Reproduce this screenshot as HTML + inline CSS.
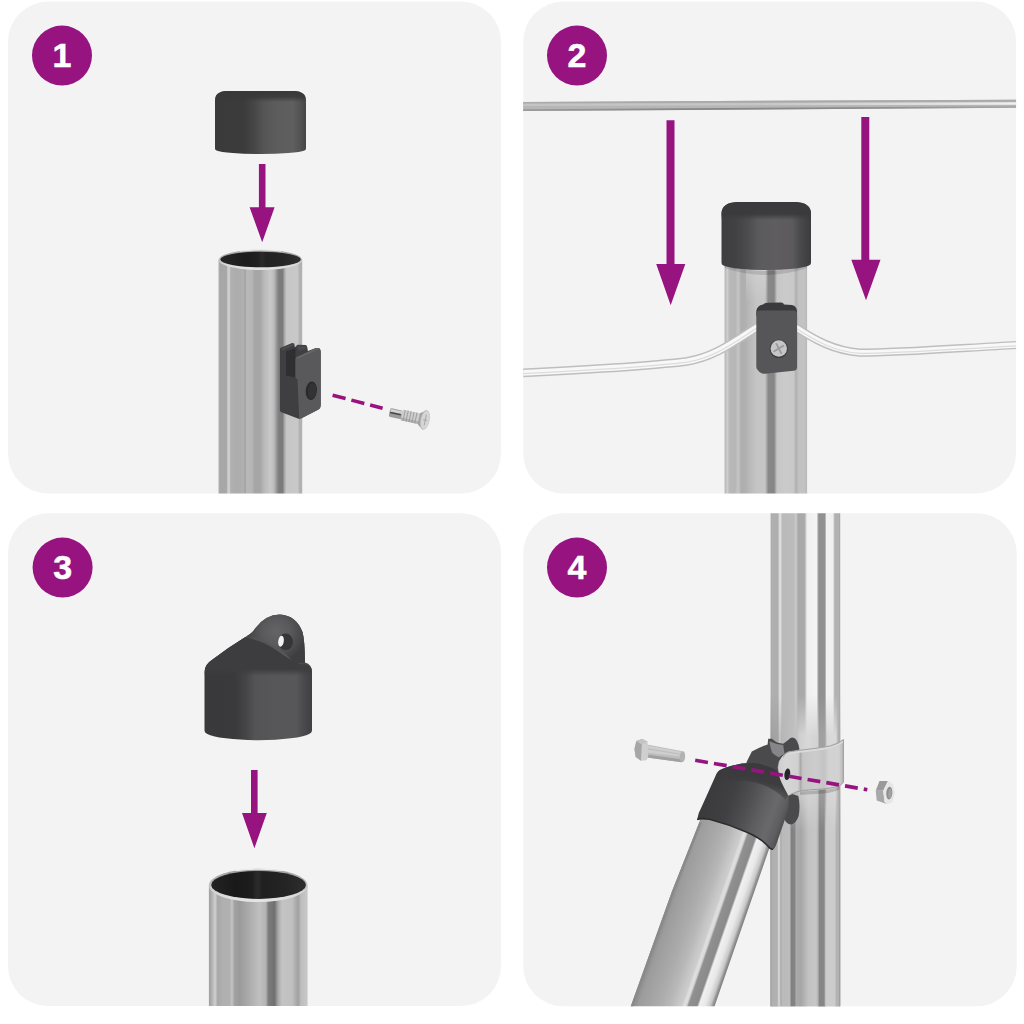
<!DOCTYPE html>
<html lang="en">
<head>
<meta charset="utf-8">
<title>Assembly steps 1-4</title>
<style>
html,body{margin:0;padding:0;background:#fff;}
body{width:1024px;height:1024px;overflow:hidden;position:relative;font-family:"Liberation Sans",sans-serif;}
svg{position:absolute;left:0;top:0;display:block;}
.num{font-family:"Liberation Sans",sans-serif;font-weight:700;font-size:34px;fill:#fff;stroke:#fff;stroke-width:0.5px;text-anchor:middle;}
</style>
</head>
<body>
<svg width="1024" height="1024" viewBox="0 0 1024 1024">
<defs>
<clipPath id="c1"><rect x="8" y="1.6" width="493" height="492" rx="40"/></clipPath>
<clipPath id="c2"><rect x="523.2" y="1.6" width="492.9" height="492" rx="40"/></clipPath>
<clipPath id="c3"><rect x="8" y="513.2" width="493" height="492.9" rx="40"/></clipPath>
<clipPath id="c4"><rect x="523.2" y="513.2" width="493.5" height="493" rx="40"/></clipPath>
<linearGradient id="gt1" gradientUnits="userSpaceOnUse" x1="218.75" y1="0" x2="302.4" y2="0">
<stop offset="0.0000" stop-color="#b0b0b0"/>
<stop offset="0.0164" stop-color="#a6a6a6"/>
<stop offset="0.0941" stop-color="#a8a8a8"/>
<stop offset="0.1091" stop-color="#d0d0d0"/>
<stop offset="0.1285" stop-color="#cccccc"/>
<stop offset="0.1435" stop-color="#b0b0b0"/>
<stop offset="0.2182" stop-color="#acacac"/>
<stop offset="0.3033" stop-color="#b0b0b0"/>
<stop offset="0.3153" stop-color="#9c9c9c"/>
<stop offset="0.3302" stop-color="#b8b8b8"/>
<stop offset="0.3975" stop-color="#b6b6b6"/>
<stop offset="0.4274" stop-color="#a6a6a6"/>
<stop offset="0.4946" stop-color="#a6a6a6"/>
<stop offset="0.5469" stop-color="#bababa"/>
<stop offset="0.6186" stop-color="#c8c8c8"/>
<stop offset="0.6590" stop-color="#bcbcbc"/>
<stop offset="0.7083" stop-color="#848484"/>
<stop offset="0.7262" stop-color="#7c7c7c"/>
<stop offset="0.7636" stop-color="#7c7c7c"/>
<stop offset="0.7860" stop-color="#a8a8a8"/>
<stop offset="0.8084" stop-color="#c6c6c6"/>
<stop offset="0.9429" stop-color="#c8c8c8"/>
<stop offset="0.9653" stop-color="#b2b2b2"/>
<stop offset="0.9922" stop-color="#b0b0b0"/>
<stop offset="0.9997" stop-color="#c0c0c0"/>
</linearGradient>
<linearGradient id="gcap1" gradientUnits="userSpaceOnUse" x1="215" y1="0" x2="306" y2="0">
<stop offset="0.0000" stop-color="#3a3a3b"/>
<stop offset="0.3077" stop-color="#3b3b3c"/>
<stop offset="0.4286" stop-color="#464647"/>
<stop offset="0.5385" stop-color="#555556"/>
<stop offset="0.6593" stop-color="#5c5c5d"/>
<stop offset="0.8571" stop-color="#5f5f60"/>
<stop offset="0.9341" stop-color="#535354"/>
<stop offset="1.0000" stop-color="#454546"/>
</linearGradient>
<linearGradient id="gcaptop1" gradientUnits="userSpaceOnUse" x1="0" y1="91" x2="0" y2="102">
<stop offset="0.0000" stop-color="#38383a" stop-opacity="1"/>
<stop offset="0.5455" stop-color="#38383a" stop-opacity="0.85"/>
<stop offset="1.0000" stop-color="#38383a" stop-opacity="0"/>
</linearGradient>
<linearGradient id="grim1" gradientUnits="userSpaceOnUse" x1="0" y1="249.8" x2="0" y2="270">
<stop offset="0.0000" stop-color="#a0a0a0"/>
<stop offset="0.3564" stop-color="#b4b4b4"/>
<stop offset="0.7030" stop-color="#d6d6d6"/>
<stop offset="1.0000" stop-color="#e4e4e4"/>
</linearGradient>
<linearGradient id="gin1" gradientUnits="userSpaceOnUse" x1="220" y1="0" x2="301" y2="0">
<stop offset="0.0000" stop-color="#262627"/>
<stop offset="0.3086" stop-color="#1c1c1d"/>
<stop offset="0.4691" stop-color="#202021"/>
<stop offset="0.5185" stop-color="#2a2a2b"/>
<stop offset="0.5679" stop-color="#222223"/>
<stop offset="0.8025" stop-color="#252526"/>
<stop offset="1.0000" stop-color="#303031"/>
</linearGradient>
<linearGradient id="grim3" gradientUnits="userSpaceOnUse" x1="0" y1="868.7" x2="0" y2="902.1">
<stop offset="0.0000" stop-color="#9c9c9c"/>
<stop offset="0.3383" stop-color="#b4b4b4"/>
<stop offset="0.7275" stop-color="#d6d6d6"/>
<stop offset="1.0000" stop-color="#e6e6e6"/>
</linearGradient>
<linearGradient id="gin3" gradientUnits="userSpaceOnUse" x1="211" y1="0" x2="306" y2="0">
<stop offset="0.0000" stop-color="#242425"/>
<stop offset="0.2526" stop-color="#19191a"/>
<stop offset="0.4316" stop-color="#1d1d1e"/>
<stop offset="0.4895" stop-color="#2c2c2d"/>
<stop offset="0.5474" stop-color="#1f1f20"/>
<stop offset="0.7789" stop-color="#242425"/>
<stop offset="1.0000" stop-color="#2e2e2f"/>
</linearGradient>
<linearGradient id="gt2" gradientUnits="userSpaceOnUse" x1="724.6" y1="0" x2="807.1" y2="0">
<stop offset="0.0003" stop-color="#b0b0b0"/>
<stop offset="0.0306" stop-color="#d0d0d0"/>
<stop offset="0.0609" stop-color="#b8b8b8"/>
<stop offset="0.1291" stop-color="#b6b6b6"/>
<stop offset="0.1624" stop-color="#c6c6c6"/>
<stop offset="0.2048" stop-color="#aeaeae"/>
<stop offset="0.2503" stop-color="#b0b0b0"/>
<stop offset="0.2958" stop-color="#b8b8b8"/>
<stop offset="0.3867" stop-color="#c4c4c4"/>
<stop offset="0.4897" stop-color="#c6c6c6"/>
<stop offset="0.5306" stop-color="#888888"/>
<stop offset="0.5988" stop-color="#858585"/>
<stop offset="0.6352" stop-color="#c6c6c6"/>
<stop offset="0.7352" stop-color="#cbcbcb"/>
<stop offset="0.8382" stop-color="#c8c8c8"/>
<stop offset="0.8639" stop-color="#b0b0b0"/>
<stop offset="0.9018" stop-color="#c2c2c2"/>
<stop offset="0.9700" stop-color="#c2c2c2"/>
<stop offset="1.0003" stop-color="#b8b8b8"/>
</linearGradient>
<linearGradient id="gcap2" gradientUnits="userSpaceOnUse" x1="721.5" y1="0" x2="811" y2="0">
<stop offset="0.0000" stop-color="#3e3e40"/>
<stop offset="0.1508" stop-color="#414143"/>
<stop offset="0.2961" stop-color="#4c4c4e"/>
<stop offset="0.4078" stop-color="#5a595b"/>
<stop offset="0.5978" stop-color="#5f5d5f"/>
<stop offset="0.7877" stop-color="#5c5a5c"/>
<stop offset="0.8771" stop-color="#4a4a4c"/>
<stop offset="1.0000" stop-color="#3c3c3e"/>
</linearGradient>
<linearGradient id="gcaptop2" gradientUnits="userSpaceOnUse" x1="0" y1="202" x2="0" y2="220">
<stop offset="0.0000" stop-color="#3a3a3c" stop-opacity="1"/>
<stop offset="0.6667" stop-color="#3a3a3c" stop-opacity="0.95"/>
<stop offset="1.0000" stop-color="#3a3a3c" stop-opacity="0"/>
</linearGradient>
<linearGradient id="ghl2" gradientUnits="userSpaceOnUse" x1="0" y1="262" x2="0" y2="302">
<stop offset="0.0000" stop-color="#d6d6d6" stop-opacity="0.7"/>
<stop offset="1.0000" stop-color="#d6d6d6" stop-opacity="0"/>
</linearGradient>
<linearGradient id="gwire" gradientUnits="userSpaceOnUse" x1="523" y1="0" x2="1016.5" y2="0">
<stop offset="0.0000" stop-color="#c4c4c4"/>
<stop offset="0.4802" stop-color="#c6c6c6"/>
<stop offset="0.7639" stop-color="#dcdcdc"/>
<stop offset="1.0000" stop-color="#f0f0f0"/>
</linearGradient>
<linearGradient id="gwireb" gradientUnits="userSpaceOnUse" x1="523" y1="0" x2="1016.5" y2="0">
<stop offset="0.0000" stop-color="#9a9a9a"/>
<stop offset="0.3587" stop-color="#868686"/>
<stop offset="0.6626" stop-color="#8a8a8a"/>
<stop offset="1.0000" stop-color="#a4a4a4"/>
</linearGradient>
<linearGradient id="gt3" gradientUnits="userSpaceOnUse" x1="208.9" y1="0" x2="307.6" y2="0">
<stop offset="-0.0003" stop-color="#a0a0a0"/>
<stop offset="0.0213" stop-color="#aaaaaa"/>
<stop offset="0.0631" stop-color="#d0d0d0"/>
<stop offset="0.0884" stop-color="#a8a8a8"/>
<stop offset="0.1454" stop-color="#b0b0b0"/>
<stop offset="0.2087" stop-color="#b0b0b0"/>
<stop offset="0.2340" stop-color="#c4c4c4"/>
<stop offset="0.2594" stop-color="#a2a2a2"/>
<stop offset="0.3100" stop-color="#9a9a9a"/>
<stop offset="0.3987" stop-color="#aaaaaa"/>
<stop offset="0.5127" stop-color="#c0c0c0"/>
<stop offset="0.5760" stop-color="#b4b4b4"/>
<stop offset="0.6039" stop-color="#7c7c7c"/>
<stop offset="0.6646" stop-color="#707070"/>
<stop offset="0.7026" stop-color="#a8a8a8"/>
<stop offset="0.7406" stop-color="#c4c4c4"/>
<stop offset="0.8419" stop-color="#c0c0c0"/>
<stop offset="0.9053" stop-color="#a0a0a0"/>
<stop offset="0.9331" stop-color="#bdbdbd"/>
<stop offset="1.0003" stop-color="#c8c8c8"/>
</linearGradient>
<linearGradient id="gcap3" gradientUnits="userSpaceOnUse" x1="204.5" y1="0" x2="312" y2="0">
<stop offset="0.0000" stop-color="#39393b"/>
<stop offset="0.2837" stop-color="#3a3a3c"/>
<stop offset="0.3860" stop-color="#454547"/>
<stop offset="0.4698" stop-color="#545456"/>
<stop offset="0.6093" stop-color="#565658"/>
<stop offset="0.8512" stop-color="#58585a"/>
<stop offset="0.9163" stop-color="#4b4b4d"/>
<stop offset="1.0000" stop-color="#3f3f41"/>
</linearGradient>
<linearGradient id="gcap3v" gradientUnits="userSpaceOnUse" x1="0" y1="660" x2="0" y2="680">
<stop offset="0.0000" stop-color="#3d3d3f" stop-opacity="1"/>
<stop offset="0.4500" stop-color="#3d3d3f" stop-opacity="1"/>
<stop offset="0.8000" stop-color="#3d3d3f" stop-opacity="0"/>
</linearGradient>
<radialGradient id="gear3" gradientUnits="userSpaceOnUse" cx="276" cy="632" r="30"><stop offset="0" stop-color="#646466"/><stop offset="0.45" stop-color="#5a5a5c"/><stop offset="0.8" stop-color="#4a4a4c"/><stop offset="1" stop-color="#3e3e40"/></radialGradient>
<linearGradient id="gt4" gradientUnits="userSpaceOnUse" x1="770.6" y1="0" x2="840.2" y2="0">
<stop offset="-0.0005" stop-color="#a8a8a8"/>
<stop offset="0.0183" stop-color="#b0b0b0"/>
<stop offset="0.1072" stop-color="#aeaeae"/>
<stop offset="0.1261" stop-color="#dedede"/>
<stop offset="0.1476" stop-color="#dcdcdc"/>
<stop offset="0.1638" stop-color="#bababa"/>
<stop offset="0.3362" stop-color="#bcbcbc"/>
<stop offset="0.3632" stop-color="#cccccc"/>
<stop offset="0.3982" stop-color="#a8a8a8"/>
<stop offset="0.4871" stop-color="#aaaaaa"/>
<stop offset="0.5248" stop-color="#f0f0f0"/>
<stop offset="0.6595" stop-color="#f4f4f4"/>
<stop offset="0.6918" stop-color="#909090"/>
<stop offset="0.7807" stop-color="#929292"/>
<stop offset="0.8023" stop-color="#f2f2f2"/>
<stop offset="0.8966" stop-color="#f0f0f0"/>
<stop offset="0.9208" stop-color="#b2b2b2"/>
<stop offset="0.9828" stop-color="#b2b2b2"/>
<stop offset="0.9989" stop-color="#a0a0a0"/>
</linearGradient>
<linearGradient id="gt4b" gradientUnits="userSpaceOnUse" x1="771" y1="0" x2="839.3" y2="0">
<stop offset="0.0000" stop-color="#a0a0a0"/>
<stop offset="0.0220" stop-color="#b0b0b0"/>
<stop offset="0.0915" stop-color="#b0b0b0"/>
<stop offset="0.1098" stop-color="#d0d0d0"/>
<stop offset="0.1281" stop-color="#d0d0d0"/>
<stop offset="0.1428" stop-color="#a8a8a8"/>
<stop offset="0.1647" stop-color="#bababa"/>
<stop offset="0.2745" stop-color="#bcbcbc"/>
<stop offset="0.2965" stop-color="#808080"/>
<stop offset="0.3441" stop-color="#848484"/>
<stop offset="0.3697" stop-color="#aaaaaa"/>
<stop offset="0.4392" stop-color="#a6a6a6"/>
<stop offset="0.5490" stop-color="#c2c2c2"/>
<stop offset="0.6589" stop-color="#c6c6c6"/>
<stop offset="0.6863" stop-color="#b4b4b4"/>
<stop offset="0.7101" stop-color="#868686"/>
<stop offset="0.7778" stop-color="#868686"/>
<stop offset="0.8016" stop-color="#cccccc"/>
<stop offset="0.9334" stop-color="#cccccc"/>
<stop offset="0.9553" stop-color="#b4b4b4"/>
<stop offset="0.9883" stop-color="#b2b2b2"/>
<stop offset="0.9993" stop-color="#a0a0a0"/>
</linearGradient>
<linearGradient id="gt4m" gradientUnits="userSpaceOnUse" x1="770.6" y1="0" x2="840.2" y2="0">
<stop offset="0.0000" stop-color="#989898"/>
<stop offset="0.0201" stop-color="#a2a2a2"/>
<stop offset="0.1063" stop-color="#a4a4a4"/>
<stop offset="0.1322" stop-color="#c8c8c8"/>
<stop offset="0.1566" stop-color="#b6b6b6"/>
<stop offset="0.3793" stop-color="#c2c2c2"/>
<stop offset="0.4224" stop-color="#d0d0d0"/>
<stop offset="0.5374" stop-color="#d8d8d8"/>
<stop offset="0.6739" stop-color="#d2d2d2"/>
<stop offset="0.7026" stop-color="#a0a0a0"/>
<stop offset="0.7816" stop-color="#a2a2a2"/>
<stop offset="0.8103" stop-color="#d8d8d8"/>
<stop offset="0.9397" stop-color="#dadada"/>
<stop offset="0.9684" stop-color="#b4b4b4"/>
<stop offset="1.0000" stop-color="#a8a8a8"/>
</linearGradient>
<linearGradient id="gfade4m" gradientUnits="userSpaceOnUse" x1="0" y1="695" x2="0" y2="736">
<stop offset="0.0000" stop-color="#fff" stop-opacity="0"/>
<stop offset="1.0000" stop-color="#fff" stop-opacity="1"/>
</linearGradient>
<mask id="m4m" maskUnits="userSpaceOnUse" x="760" y="500" width="100" height="520"><rect x="760" y="500" width="100" height="520" fill="url(#gfade4m)"/></mask>
<linearGradient id="gfade4" gradientUnits="userSpaceOnUse" x1="0" y1="785" x2="0" y2="830">
<stop offset="0.0000" stop-color="#fff" stop-opacity="0"/>
<stop offset="1.0000" stop-color="#fff" stop-opacity="1"/>
</linearGradient>
<mask id="m4" maskUnits="userSpaceOnUse" x="760" y="500" width="100" height="520"><rect x="760" y="500" width="100" height="520" fill="url(#gfade4)"/></mask>
<linearGradient id="gdiag" gradientUnits="userSpaceOnUse" x1="636.5" y1="980.1" x2="714" y2="1007"><stop offset="0.0000" stop-color="#888888"/><stop offset="0.0610" stop-color="#8c8c8c"/><stop offset="0.1220" stop-color="#9c9c9c"/><stop offset="0.2439" stop-color="#a4a4a4"/><stop offset="0.3659" stop-color="#acacac"/><stop offset="0.4878" stop-color="#b8b8b8"/><stop offset="0.5732" stop-color="#c6c6c6"/><stop offset="0.6220" stop-color="#cccccc"/><stop offset="0.6524" stop-color="#e0e0e0"/><stop offset="0.6768" stop-color="#d8d8d8"/><stop offset="0.7012" stop-color="#909090"/><stop offset="0.7988" stop-color="#8a8a8a"/><stop offset="0.8232" stop-color="#f0f0f0"/><stop offset="0.8902" stop-color="#e8e8e8"/><stop offset="0.9512" stop-color="#c8c8c8"/><stop offset="0.9780" stop-color="#989898"/><stop offset="1.0000" stop-color="#808080"/></linearGradient>
<linearGradient id="gcap4" gradientUnits="userSpaceOnUse" x1="706" y1="792" x2="786" y2="821"><stop offset="0" stop-color="#3a3a3c"/><stop offset="0.3" stop-color="#404042"/><stop offset="0.5" stop-color="#4e4e50"/><stop offset="0.68" stop-color="#5f5f61"/><stop offset="0.82" stop-color="#69696b"/><stop offset="0.93" stop-color="#5e5e60"/><stop offset="1" stop-color="#4b4b4d"/></linearGradient>
<linearGradient id="gcap4t" gradientUnits="userSpaceOnUse" x1="752" y1="762" x2="742" y2="792"><stop offset="0" stop-color="#3a3a3c" stop-opacity="1"/><stop offset="0.45" stop-color="#3a3a3c" stop-opacity="0.9"/><stop offset="1" stop-color="#3a3a3c" stop-opacity="0"/></linearGradient>
<linearGradient id="gstrap" gradientUnits="userSpaceOnUse" x1="779" y1="0" x2="844" y2="0">
<stop offset="0.0000" stop-color="#cecece"/>
<stop offset="0.1077" stop-color="#d6d6d6"/>
<stop offset="0.2923" stop-color="#d0d0d0"/>
<stop offset="0.3308" stop-color="#ababab"/>
<stop offset="0.3692" stop-color="#c6c6c6"/>
<stop offset="0.5692" stop-color="#cccccc"/>
<stop offset="0.6923" stop-color="#c4c4c4"/>
<stop offset="0.7692" stop-color="#d2d2d2"/>
<stop offset="0.9231" stop-color="#d2d2d2"/>
<stop offset="0.9969" stop-color="#b0b0b0"/>
</linearGradient>
<filter id="b1" x="-20%" y="-20%" width="140%" height="140%"><feGaussianBlur stdDeviation="0.7"/></filter>
<clipPath id="cdiag"><path d="M712 785 L699 823 Q686 856 672 891.3 Q651 950 630.5 1007 L714.3 1007 L769.8 847 L782 812 Z"/></clipPath>
</defs>

<!-- panels -->
<rect x="8" y="1.6" width="493" height="492" rx="40" fill="#f3f3f3"/>
<rect x="523.2" y="1.6" width="492.9" height="492" rx="40" fill="#f4f3f3"/>
<rect x="8" y="513.2" width="493" height="492.9" rx="40" fill="#f3f3f3"/>
<rect x="523.2" y="513.2" width="493.5" height="493" rx="40" fill="#f4f3f3"/>

<!-- ===== step 1 ===== -->
<g clip-path="url(#c1)">
  <!-- end cap -->
  <path d="M215 147.5 L215 101 C215 94.5 218.5 91.4 227 91 L294 91 C302.5 91.4 306 94.5 306 101 L306 148.6 Q306 150.2 304.5 150.6 A45.5 4.6 0 0 1 216.5 150.6 Q215 150.2 215 148.6 Z" fill="url(#gcap1)"/>
  <path d="M215 104 L215 101 C215 94.5 218.5 91.4 227 91 L294 91 C302.5 91.4 306 94.5 306 101 L306 104 Z" fill="url(#gcaptop1)"/>
  <!-- arrow -->
  <path d="M258.9 164 H265.5 V207.3 H274.6 L262.2 242.3 L249.6 207.3 H258.9 Z" fill="#971480"/>
  <!-- tube -->
  <path d="M218.5 259.9 V494 H302.3 V259.9 Z" fill="url(#gt1)"/>
  <ellipse cx="260.4" cy="259.9" rx="41.9" ry="10.1" fill="url(#grim1)"/>
  <path d="M240 251.2 Q260.4 248.6 281 251.2" fill="none" stroke="#ececec" stroke-width="1.2"/>
  <ellipse cx="260.6" cy="259.5" rx="40.3" ry="7.8" fill="url(#gin1)"/>
  <!-- clip -->
  <path d="M279.9 349 L280.2 348.1 L292.1 343 L294.2 343.6 L294.9 347.2 L296.3 346.1 L297.4 344.7 L306.2 345.1 L307.4 347.4 L307.8 350.9 L316 348.1 Q320.7 347 320.7 352 L320.7 404.4 Q320.7 408.5 318 409.8 L301.5 418.3 Q299.8 419.2 297.8 418.4 L281.5 412.3 Q279.9 411.7 279.9 410 Z" fill="#3f3f41"/>
  <path d="M280.6 349 L292.1 344.2 L294 345 L283 350.2 Z" fill="#4d4d4f"/>
  <path d="M297.2 346 L306 346.2 L307 348.6 L298.5 351 Z" fill="#4b4b4d"/>
  <path d="M286 351.6 L295.4 348.2 L295.4 377.4 L286 375.4 Z" fill="#2f2f31"/>
  <path d="M295.4 359 Q295.4 357.6 296.8 357 L316 348.1 Q320.7 347 320.7 352 L320.7 404.4 Q320.7 408.5 318 409.8 L301.5 418.3 Q299.3 419.3 299.1 416.8 L297.5 379.5 L295.4 377.4 Z" fill="#59595b"/>
  <path d="M296.2 357.4 L316 348.3 Q318.5 347.6 319.8 348.8 L298 358.6 Z" fill="#666668"/>
  <ellipse cx="311.3" cy="390.8" rx="5.6" ry="9.3" fill="#2a2a2c" transform="rotate(5 311.3 390.8)"/>
  <ellipse cx="312.2" cy="391" rx="4.2" ry="8" fill="#333335" transform="rotate(5 312.2 391)"/>
  <!-- dashed guide -->
  <line x1="332.6" y1="395.2" x2="382.6" y2="408.3" stroke="#971480" stroke-width="3.6" stroke-dasharray="13.4 6"/>
  <!-- screw -->
  <g transform="translate(389.5 412.3) rotate(12.2)">
    <rect x="0" y="-4.4" width="13" height="8.8" rx="1.6" fill="#9c9c9c"/>
    <rect x="0.6" y="-3.6" width="12" height="2.6" fill="#d4d4d4"/>
    <rect x="0.6" y="-0.7" width="11" height="1.5" fill="#4a4a4a"/>
    <rect x="12.5" y="-5.5" width="18" height="11" rx="1" fill="#cfcfcf"/>
    <path d="M15 -5.5v11M18 -5.5v11M21 -5.5v11M24 -5.5v11M27 -5.5v11" stroke="#a2a2a2" stroke-width="1.1"/>
    <rect x="12.5" y="2.6" width="18" height="2.9" fill="#8e8e8e" opacity="0.45"/>
    <path d="M30 -5.5 L33.5 -8 L33.5 8.5 L30 5.5 Z" fill="#a0a0a0"/>
    <ellipse cx="36.2" cy="0" rx="4.7" ry="10" fill="#bcbcbc"/>
    <ellipse cx="36.6" cy="0" rx="4" ry="9.2" fill="#d6d6d6"/>
    <path d="M36.6 -5.5v11M34.6 0h4" stroke="#aaaaaa" stroke-width="1.1"/>
  </g>
</g>
<!-- ===== step 2 ===== -->
<g clip-path="url(#c2)">
  <!-- top wire -->
  <path d="M523 101.9 L1016.5 99.7 L1016.5 107.8 L523 110.9 Z" fill="#b6b6b6"/>
  <path d="M523 101.9 L1016.5 99.7 L1016.5 101.6 L523 103.5 Z" fill="#aaaaaa"/>
  <path d="M523 103.7 L1016.5 102.3 L1016.5 104.7 L523 106 Z" fill="url(#gwire)"/>
  <path d="M523 109.2 L1016.5 106.2 L1016.5 107.8 L523 110.9 Z" fill="url(#gwireb)"/>
  <!-- arrows -->
  <path d="M666.5 120.3 H674.5 V264 H685.3 L670.7 305.3 L656.2 264 H666.5 Z" fill="#971480"/>
  <path d="M861.3 117 H869.3 V259.8 H880.5 L866 300.3 L851.3 259.8 H861.3 Z" fill="#971480"/>
  <!-- tube -->
  <rect x="724.6" y="250" width="82.5" height="244" fill="url(#gt2)"/>
  <rect x="746" y="262" width="20.5" height="40" fill="url(#ghl2)"/>
  <!-- shadow under cap -->
  <path d="M724.6 264 Q766 278 807.1 264 L807.1 268 Q766 282 724.6 268 Z" fill="#000" opacity="0.12"/>
  <!-- wire behind clip -->
  <path d="M523 372.8 C600 369 650 366 687 361.3 C715 357 735 341 759 326" fill="none" stroke="#bebebe" stroke-width="8.8"/>
  <path d="M523 372.8 C600 369 650 366 687 361.3 C715 357 735 341 759 326" fill="none" stroke="#f8f8f8" stroke-width="5.8"/>
  <path d="M523 373.6 C600 369.8 650 366.8 687 362.1 C715 357.8 735 341.8 759 326.8" fill="none" stroke="#dcdcdc" stroke-width="1.2"/>
  <path d="M796 327.5 C815 340 835 351 860 352.6 C900 352.6 960 348 1016.5 345" fill="none" stroke="#bebebe" stroke-width="8.2"/>
  <path d="M796 327.5 C815 340 835 351 860 352.6 C900 352.6 960 348 1016.5 345" fill="none" stroke="#f8f8f8" stroke-width="5.4"/>
  <path d="M796 328.3 C815 340.8 835 351.8 860 353.4 C900 353.4 960 348.8 1016.5 345.8" fill="none" stroke="#dcdcdc" stroke-width="1.2"/>
  <!-- clip -->
  <path d="M763 304.5 Q764 303 768 302.8 L781 302.5 Q783.5 302.6 784 304.5 L792 305 Q796.5 306 797 311 L797 316 L756.3 316 L756.3 311 Q757 305.5 763 304.5 Z" fill="#3a3a3c"/>
  <path d="M756.3 314 Q756.3 310.5 760 310.5 L793.5 310.5 Q797.1 310.5 797.1 314 L797.1 367 Q797.1 370.5 793.5 370.8 L765 373.8 Q761.5 374 759.5 372 L757.3 369.5 Q756.3 368.3 756.3 366.5 Z" fill="#565658"/>
  <!-- screw head -->
  <circle cx="778.8" cy="348.8" r="9.3" fill="#3e3e40"/>
  <circle cx="778.8" cy="348.5" r="8.2" fill="#c6c6c6"/>
  <path d="M774.2 351.2 L783.4 345.8 M776.4 343.9 L781.2 353.1" stroke="#9a9a9a" stroke-width="1.8" stroke-linecap="round"/>
  <!-- end cap -->
  <path d="M721.5 262 L721.5 214 C721.5 206.5 726.5 202.6 737 202 L796 202 C806 202.6 811 206.5 811 214 L811 262.8 Q811 264.8 809 265.4 A44.8 6.6 0 0 1 723.5 265.4 Q721.5 264.8 721.5 262.8 Z" fill="url(#gcap2)"/>
  <path d="M721.5 224 L721.5 214 C721.5 206.5 726.5 202.6 737 202 L796 202 C806 202.6 811 206.5 811 214 L811 224 Z" fill="url(#gcaptop2)"/>
</g>
<!-- ===== step 3 ===== -->
<g clip-path="url(#c3)">
  <!-- corner cap with eyelet -->
  <path d="M204.5 730 L204.5 672 Q204.5 664.5 212.5 659.5 Q229 647 244.5 637.5 Q252 633.5 255.5 628 Q266 614.5 280 614.6 Q296 615.5 302.5 632 Q304.8 640 305 662.5 Q312 664.5 312 672 L312 730.2 Q312 732.6 310 733.4 A53.8 9.4 0 0 1 206.5 733.4 Q204.5 732.6 204.5 730.2 Z" fill="url(#gcap3)"/>
  <path d="M204.5 682 L204.5 672 Q204.5 664.5 212.5 659.5 Q229 647 244.5 637.5 Q262 640 276 650 Q290 660 300 664 Q312 664 312 672 L312 682 Z" fill="url(#gcap3v)"/>
  <path d="M247 636 Q252 633.5 255.5 628 Q266 614.5 280 614.6 Q296 615.5 302.5 632 Q304.8 640 305 662.5 Q298 664.5 293 661.5 Q284 651 270 643.5 Q258 637.5 247 636 Z" fill="url(#gear3)"/>
  <ellipse cx="285.6" cy="641.8" rx="7.4" ry="8.3" fill="#363638"/>
  <ellipse cx="281" cy="641.2" rx="2.8" ry="5.5" fill="#f2f2f2" transform="rotate(8 281 641.2)"/>
  <!-- arrow -->
  <path d="M251 770 H257.6 V813 H266.8 L254.4 848.3 L242 813 H251 Z" fill="#971480"/>
  <!-- tube -->
  <path d="M208.9 885.4 V1007 H307.6 V885.4 Z" fill="url(#gt3)"/>
  <ellipse cx="258.2" cy="885.4" rx="49.4" ry="16.7" fill="url(#grim3)"/>
  <path d="M236 870.6 Q258.5 867.4 282 870.6" fill="none" stroke="#ececec" stroke-width="1.3"/>
  <ellipse cx="258.6" cy="884.9" rx="47.4" ry="14" fill="url(#gin3)"/>
</g>
<!-- ===== step 4 ===== -->
<g clip-path="url(#c4)">
  <!-- vertical post -->
  <rect x="770.6" y="512" width="69.6" height="495" fill="url(#gt4)"/>
  <rect x="770.6" y="512" width="69.6" height="495" fill="url(#gt4m)" mask="url(#m4m)"/>
  <rect x="770.6" y="512" width="69.6" height="495" fill="url(#gt4b)" mask="url(#m4)"/>
  <!-- clamp half behind the brace -->
  <path d="M746 766 L746.6 762 L751.8 751.6 Q759.5 746.9 767.6 744.4 L768.2 738.8 L772 738.8 Q774.5 741 777 742.5 L783.2 743.8 Q786 741.5 788.2 740 Q790.5 737.6 792.5 737.6 Q795.5 738 797 741 Q799 745 799.5 749.4 L789.5 752.5 L783.2 755.6 L778.9 761.2 L777.6 767.5 L779.5 776.2 Z" fill="#4a4a4c"/>
  <path d="M769.5 741.2 Q775 744 783.2 745 L784.5 753.8 Q781 755.5 778.9 757.5 Q775 755.5 772 752.5 Q770 747 769.5 741.2 Z" fill="#868688"/>
  <!-- shadow cast on the post -->
  <path d="M786 792 L798.3 796 Q800.6 806 798.6 816 Q796.5 823 791 824.5 Q786 824 784 818 Z" fill="#4a4a4c"/>
  <!-- diagonal brace tube -->
  <g clip-path="url(#cdiag)">
    <path d="M712 780 L626 1007 L716 1007 L790 790 Z" fill="url(#gdiag)"/>
    <path d="M699.5 822 Q686 856 672 891.3 Q651 950 630.5 1007" fill="none" stroke="#8a8a8a" stroke-width="5" filter="url(#b1)"/>
  </g>
  <!-- plastic cap on the brace -->
  <path d="M697 820 Q698.5 812 702 806 L715.5 776 Q717.3 771 721.5 769.2 Q730 765.8 742 763.6 L754 763 Q770 765 779 772 Q784.5 778.5 787.8 794 Q789.8 802 787.5 812 L777 842.5 Q775 848.5 773.2 849.4 Q770.5 849.8 768.5 846.5 Q762 838.5 747 831.9 Q728.3 823.7 709.5 818.9 Q700 817.5 697 820 Z" fill="url(#gcap4)"/>
  <path d="M715.5 776 Q717.3 771 721.5 769.2 Q730 765.8 742 763.6 L754 763 Q770 765 779 772 Q784.5 778.5 787.8 794 L786 800 Q770 784 748 781 Q730 780 712 784 Z" fill="url(#gcap4t)"/>
  <path d="M697.3 819.6 Q700 817.8 709.5 819.2 Q728.3 824 747 832.2 Q762 838.8 768.5 846.8 Q770.5 849.8 773 849.2" fill="none" stroke="#2b2b2d" stroke-width="1.6"/>
  <path d="M800 791.5 L823.5 790 Q833 789 839.5 786.5 L839.5 789.5 Q833 792.5 823.5 793.5 L800 795 Z" fill="#000" opacity="0.16"/>
  <!-- steel strap -->
  <path d="M789.1 751.7 Q802 749.8 814.1 748.5 Q824 747.5 831 745.8 Q839.5 743 843.8 739.2 L843.8 782.1 Q841.5 785.5 837.6 786.8 Q831 788.5 823.5 789.2 L803.2 790.7 Q797 791.5 790.7 794.6 Q789.3 795.8 788.3 795.4 Q784 788 781.3 782.1 Q778.2 774.5 778.5 769.6 Q778.5 760.5 782.9 755.6 Q785.5 752.5 789.1 751.7 Z" fill="url(#gstrap)"/>
  <path d="M789.1 751.7 Q802 749.8 814.1 748.5 Q824 747.5 831 745.8 Q839.5 743 843.8 739.2 L843.8 742 Q839.5 745.6 831 748.2 Q824 749.9 814.1 750.9 Q802 752.2 789.5 754 Q786 754.8 783.8 757.4 Q785.5 752.5 789.1 751.7 Z" fill="#dadada"/>
  <path d="M783 757 Q785.5 752.6 789.1 751.7 Q802 749.8 814.1 748.5 Q824 747.5 831 745.8 Q839.5 743 843.6 739.4" fill="none" stroke="#a2a2a2" stroke-width="1.1"/>
  <path d="M843.4 740 L843.4 782 Q841.5 785.2 837.6 786.5 Q831 788.2 823.5 788.9 L803.2 790.4 Q797 791.2 790.7 794.3" fill="none" stroke="#9e9e9e" stroke-width="1"/>
  <ellipse cx="787.3" cy="774.3" rx="2.9" ry="5.8" fill="#262628" transform="rotate(8 787.3 774.3)"/>
  <!-- hex bolt -->
  <path d="M647 744.6 L681.5 750.9 Q685.3 752.8 685.2 756.6 Q685 760.8 681.5 762.2 L647 757.4 Z" fill="#bebebe"/>
  <path d="M647 745.4 L681.5 751.7 Q683.2 752.6 684 754.2 L647 748 Z" fill="#cfcfcf"/>
  <path d="M647 749.5 L683 755 L683.5 757 L647 752.5 Z" fill="#d4d4d4" opacity="0.7"/>
  <path d="M647 754.6 L684.6 759.8 Q683.8 761.5 681.5 762.2 L647 757.4 Z" fill="#a0a0a0"/>
  <ellipse cx="682.3" cy="756.5" rx="2.7" ry="5.4" fill="#b2b2b2" transform="rotate(8 682.3 756.5)"/>
  <path d="M634.4 749 L636.3 741 L642.5 738.9 L647.6 741.6 L648.2 757 L646.6 760.2 L641 760.8 L635.6 757 Z" fill="#cfcfcf"/>
  <path d="M634.4 749 L636.3 741 L642.5 738.9 L641.6 748.5 L641 760.8 L635.6 757 Z" fill="#a6a6a6"/>
  <path d="M636.3 741 L642.5 738.9 L647.6 741.6 L641.8 744.4 Z" fill="#c4c4c4"/>
  <!-- dashed guide -->
  <line x1="695.2" y1="760.3" x2="867.3" y2="789.7" stroke="#971480" stroke-width="3.7" stroke-dasharray="12.9 6.1"/>
  <!-- hex nut -->
  <path d="M879.5 780.9 L887.9 781.1 L883.2 790.8 L875.7 790.8 Z" fill="#9a9a9a"/>
  <path d="M875.7 790.8 L883.2 790.8 L884.6 802 L887.4 804.3 L876.7 800.6 Z" fill="#a8a8a8"/>
  <path d="M887.9 781.1 L893.1 784.2 L894.9 793.1 L892.6 802 L887.4 804.3 L884.6 802 L883.2 790.8 Z" fill="#e6e6e6"/>
  <ellipse cx="889.3" cy="793.2" rx="3" ry="6.4" fill="#8e8e8e" transform="rotate(4 889.3 793.2)"/>
  <ellipse cx="889.9" cy="793.6" rx="1.6" ry="4.6" fill="#a2a2a2" transform="rotate(4 889.9 793.6)"/>
</g>

<!-- step badges -->
<circle cx="62" cy="55.6" r="30" fill="#971480"/>
<text class="num" x="62" y="67.3">1</text>
<circle cx="577" cy="55.6" r="30" fill="#971480"/>
<text class="num" x="577" y="67.3">2</text>
<circle cx="62.6" cy="567.6" r="30" fill="#971480"/>
<text class="num" x="62.6" y="579.3">3</text>
<circle cx="577" cy="567.6" r="30" fill="#971480"/>
<text class="num" x="577" y="579.3">4</text>
</svg>
</body>
</html>
